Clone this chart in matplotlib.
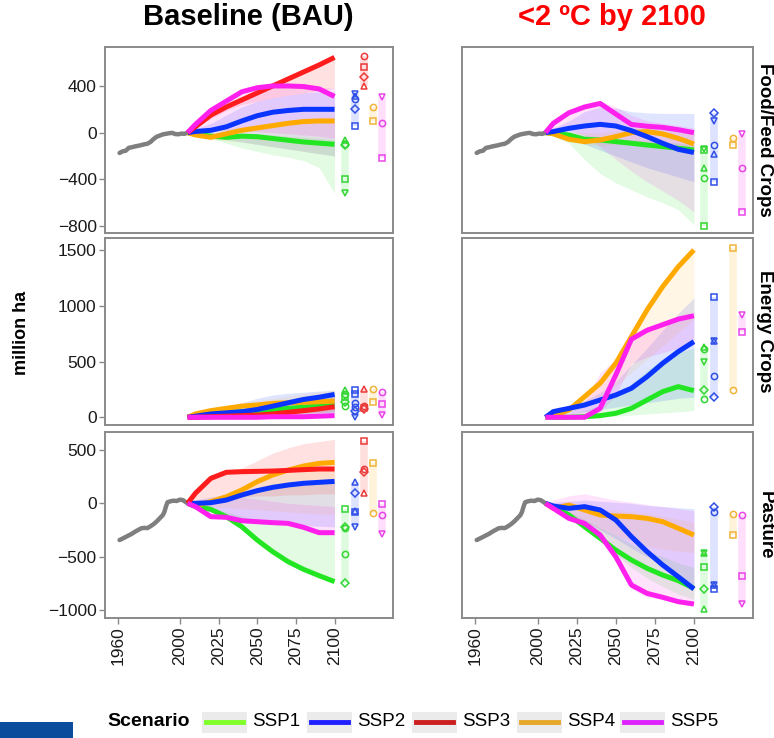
import matplotlib
matplotlib.use("Agg")
import matplotlib.pyplot as plt
from matplotlib.patches import Rectangle
from matplotlib.lines import Line2D

plt.rcParams['font.family'] = ['Liberation Sans', 'DejaVu Sans']

# ---------------- data ----------------
scenarios = ["SSP1", "SSP2", "SSP3", "SSP4", "SSP5"]
proj_years = [2005, 2010, 2020, 2030, 2040, 2050, 2060, 2070, 2080, 2090, 2100]
x_ticks = [1960, 2000, 2025, 2050, 2075, 2100]
row_labels = ["Food/Feed Crops", "Energy Crops", "Pasture"]
col_titles = ["Baseline (BAU)", "<2 ºC by 2100"]
y_label = "million ha"

food_hist_years = [1961, 1963, 1965, 1967, 1969, 1971, 1974, 1977, 1979, 1981, 1983,
                   1985, 1987, 1989, 1991, 1993, 1995, 1997, 1999, 2001, 2003, 2005]
food_hist = [-174, -160, -155, -130, -125, -118, -110, -100, -95, -80, -55,
             -35, -25, -15, -10, -5, -2, -12, -14, -8, -10, 0]

pasture_hist_years = [1961, 1963, 1965, 1967, 1969, 1971, 1973, 1975, 1977, 1979, 1981, 1983,
                      1985, 1987, 1989, 1990, 1991, 1992, 1994, 1996, 1998, 2000, 2002, 2004, 2005]
pasture_hist = [-344, -330, -315, -300, -285, -266, -250, -234, -230, -232, -215, -195,
                -170, -140, -110, -80, -30, 10, 20, 25, 22, 35, 30, 10, 0]

# Baseline, food/feed crops
bau_food_line = {
    "SSP1": [0, -10, -30, -40, -30, -35, -50, -65, -80, -90, -100],
    "SSP2": [0, 10, 20, 50, 100, 145, 175, 190, 200, 200, 200],
    "SSP3": [0, 50, 150, 220, 280, 340, 400, 460, 520, 580, 645],
    "SSP4": [0, -20, -40, -10, 20, 40, 60, 80, 95, 100, 100],
    "SSP5": [0, 70, 190, 270, 350, 385, 400, 400, 395, 375, 310],
}
bau_food_lo = {
    "SSP1": [0, -15, -50, -90, -130, -160, -190, -210, -240, -300, -520],
    "SSP2": [0, -10, -30, -60, -80, -100, -120, -140, -160, -180, -200],
    "SSP3": [0, 40, 120, 190, 240, 270, 300, 320, 340, 360, 380],
    "SSP4": [0, -25, -60, -70, -80, -100, -120, -140, -160, -180, -200],
    "SSP5": [0, 0, 10, 20, 20, 10, 0, -10, -20, -30, -50],
}
bau_food_hi = {
    "SSP1": [0, -5, -15, -15, -10, -10, -20, -30, -40, -50, -60],
    "SSP2": [0, 30, 80, 150, 220, 270, 300, 320, 340, 350, 350],
    "SSP3": [0, 50, 150, 220, 280, 340, 400, 460, 520, 580, 645],
    "SSP4": [0, 0, 10, 30, 50, 70, 90, 110, 120, 130, 130],
    "SSP5": [0, 75, 195, 275, 355, 390, 405, 405, 400, 390, 380],
}
bau_food_models = {
    "SSP1": [("^", -60), ("o", -100), ("D", -110), ("s", -400), ("v", -520)],
    "SSP2": [("v", 335), ("^", 310), ("o", 290), ("D", 200), ("s", 60)],
    "SSP3": [("o", 660), ("s", 560), ("D", 480), ("^", 400)],
    "SSP4": [("o", 222), ("s", 102)],
    "SSP5": [("v", 303), ("o", 80), ("s", -220)],
}

# <2C, food/feed crops
c2_food_line = {
    "SSP1": [0, -5, -20, -57, -63, -77, -91, -106, -120, -134, -148],
    "SSP2": [0, 9, 37, 57, 71, 57, 17, -34, -91, -143, -170],
    "SSP4": [0, -10, -57, -77, -63, -34, 0, 9, -11, -49, -97],
    "SSP5": [0, 80, 170, 220, 250, 160, 70, 55, 45, 25, 0],
}
c2_food_lo = {
    "SSP1": [0, -30, -90, -230, -350, -430, -490, -550, -600, -660, -790],
    "SSP2": [0, -10, -40, -100, -150, -200, -250, -300, -340, -380, -420],
    "SSP4": [0, -15, -70, -100, -110, -100, -90, -100, -120, -140, -160],
    "SSP5": [0, 10, 20, -20, -120, -230, -330, -420, -500, -580, -680],
}
c2_food_hi = {
    "SSP1": [0, 0, 0, -20, -40, -50, -60, -70, -80, -90, -110],
    "SSP2": [0, 40, 100, 180, 220, 210, 180, 170, 165, 165, 165],
    "SSP4": [0, 5, 10, 0, 0, 20, 40, 50, 40, 20, 0],
    "SSP5": [0, 90, 190, 240, 270, 220, 150, 100, 80, 60, 40],
}
c2_food_models = {
    "SSP1": [("v", -143), ("s", -150), ("^", -305), ("o", -391), ("s", -800)],
    "SSP2": [("D", 166), ("v", 100), ("o", -106), ("^", -186), ("s", -420)],
    "SSP4": [("o", -49), ("s", -106)],
    "SSP5": [("v", -11), ("o", -305), ("s", -677)],
}

# Baseline, energy crops
bau_energy_line = {
    "SSP1": [0, 15, 30, 40, 50, 60, 70, 80, 90, 100, 110],
    "SSP2": [0, 10, 30, 40, 50, 70, 100, 130, 160, 180, 205],
    "SSP3": [0, 0, 5, 10, 15, 20, 30, 45, 60, 75, 95],
    "SSP4": [0, 30, 60, 80, 100, 110, 125, 130, 135, 140, 145],
    "SSP5": [0, 0, 0, 0, 0, 0, 5, 5, 5, 10, 15],
}
bau_energy_lo = {
    "SSP1": [0, 0, 5, 10, 15, 20, 25, 30, 35, 40, 45],
    "SSP2": [0, 0, 5, 10, 15, 20, 25, 30, 35, 40, 45],
    "SSP3": [0, 0, 0, 0, 5, 10, 15, 20, 30, 40, 50],
    "SSP4": [0, 20, 40, 60, 80, 90, 100, 110, 120, 125, 130],
    "SSP5": [0, 0, 0, 0, 0, 0, 0, 0, 0, 0, 0],
}
bau_energy_hi = {
    "SSP1": [0, 30, 60, 80, 100, 120, 140, 160, 180, 200, 220],
    "SSP2": [0, 40, 80, 100, 130, 170, 200, 215, 225, 235, 240],
    "SSP3": [0, 5, 15, 30, 50, 70, 90, 110, 130, 150, 170],
    "SSP4": [0, 40, 80, 110, 130, 150, 170, 190, 210, 230, 250],
    "SSP5": [0, 5, 10, 15, 20, 30, 50, 80, 110, 150, 200],
}
bau_energy_models = {
    "SSP1": [("^", 245), ("o", 210), ("s", 180), ("D", 140), ("o", 105)],
    "SSP2": [("s", 245), ("s", 210), ("o", 130), ("o", 95), ("D", 55), ("v", 5)],
    "SSP3": [("^", 255), ("o", 100), ("s", 85), ("D", 70)],
    "SSP4": [("o", 251), ("s", 134)],
    "SSP5": [("o", 229), ("s", 119), ("v", 21)],
}

# <2C, energy crops
c2_energy_line = {
    "SSP1": [0, 0, 0, 5, 15, 36, 80, 155, 230, 275, 239],
    "SSP2": [0, 51, 80, 110, 155, 200, 260, 364, 484, 589, 678],
    "SSP4": [0, 12, 66, 185, 305, 484, 723, 962, 1171, 1350, 1500],
    "SSP5": [0, 0, 0, 0, 80, 380, 700, 780, 830, 880, 910],
}
c2_energy_lo = {
    "SSP1": [0, 0, 0, 0, 5, 10, 20, 30, 40, 50, 60],
    "SSP2": [0, 10, 30, 50, 70, 90, 110, 130, 150, 170, 180],
    "SSP4": [0, 10, 40, 100, 180, 280, 400, 520, 640, 760, 880],
    "SSP5": [0, 0, 0, 0, 50, 200, 480, 540, 580, 620, 650],
}
c2_energy_hi = {
    "SSP1": [0, 10, 30, 60, 110, 190, 300, 420, 520, 580, 620],
    "SSP2": [0, 60, 100, 150, 220, 320, 470, 620, 780, 930, 1070],
    "SSP4": [0, 12, 66, 185, 305, 484, 723, 962, 1171, 1350, 1500],
    "SSP5": [0, 0, 30, 150, 400, 520, 700, 800, 860, 900, 940],
}
c2_energy_models = {
    "SSP1": [("^", 633), ("o", 609), ("v", 499), ("D", 245), ("o", 161)],
    "SSP2": [("s", 1081), ("^", 687), ("v", 687), ("o", 373), ("D", 185)],
    "SSP4": [("s", 1514), ("o", 245)],
    "SSP5": [("v", 917), ("s", 768)],
}

# Baseline, pasture
bau_pasture_line = {
    "SSP1": [0, -30, -56, -125, -219, -344, -453, -547, -619, -678, -734],
    "SSP2": [0, 0, 6, 31, 78, 119, 150, 172, 188, 197, 206],
    "SSP3": [0, 94, 234, 291, 297, 300, 303, 309, 316, 322, 322],
    "SSP4": [0, -20, 16, 62, 125, 203, 266, 312, 350, 375, 384],
    "SSP5": [0, -30, -125, -131, -163, -172, -181, -188, -225, -275, -275],
}
bau_pasture_lo = {
    "SSP1": [0, -30, -56, -125, -219, -344, -453, -547, -619, -678, -734],
    "SSP2": [0, -30, -80, -120, -150, -170, -190, -200, -210, -215, -220],
    "SSP3": [0, 20, 40, 60, 60, 70, 70, 80, 80, 90, 90],
    "SSP4": [0, -20, -30, -40, -50, -60, -70, -80, -90, -100, -100],
    "SSP5": [0, -40, -130, -140, -170, -180, -190, -200, -230, -280, -290],
}
bau_pasture_hi = {
    "SSP1": [0, -10, -40, -80, -120, -160, -190, -210, -230, -240, -250],
    "SSP2": [0, 30, 60, 80, 100, 130, 160, 180, 190, 200, 210],
    "SSP3": [0, 100, 250, 310, 330, 400, 470, 520, 560, 580, 600],
    "SSP4": [0, 0, 30, 80, 140, 220, 290, 340, 370, 390, 400],
    "SSP5": [0, 20, 40, 50, 60, 40, 20, 0, -10, -20, -30],
}
bau_pasture_models = {
    "SSP1": [("s", -56), ("D", -225), ("o", -230), ("o", -475), ("D", -744)],
    "SSP2": [("^", 203), ("D", 100), ("^", -69), ("s", -78), ("v", -225)],
    "SSP3": [("s", 588), ("o", 319), ("D", 291), ("^", 94)],
    "SSP4": [("s", 381), ("o", -88)],
    "SSP5": [("s", -6), ("o", -109), ("v", -288)],
}

# <2C, pasture
c2_pasture_line = {
    "SSP1": [0, -30, -109, -219, -328, -438, -531, -609, -672, -725, -797],
    "SSP2": [0, -25, -47, -31, -62, -156, -312, -453, -578, -688, -803],
    "SSP4": [0, -47, -16, -62, -109, -119, -125, -141, -172, -234, -297],
    "SSP5": [0, -47, -141, -188, -297, -500, -766, -844, -881, -922, -944],
}
c2_pasture_lo = {
    "SSP1": [0, -40, -130, -240, -350, -480, -600, -700, -780, -850, -900],
    "SSP2": [0, -40, -100, -170, -250, -330, -420, -500, -580, -650, -780],
    "SSP4": [0, -50, -100, -170, -240, -300, -350, -400, -430, -450, -460],
    "SSP5": [0, -60, -160, -220, -320, -550, -800, -880, -900, -930, -950],
}
c2_pasture_hi = {
    "SSP1": [0, -20, -80, -150, -230, -300, -380, -450, -500, -560, -600],
    "SSP2": [0, 10, 20, 30, 20, 10, 0, -20, -30, -40, -50],
    "SSP4": [0, -10, 10, -20, -50, -70, -80, -100, -120, -150, -180],
    "SSP5": [0, 30, 70, 90, 60, 30, 10, -10, -30, -50, -70],
}
c2_pasture_models = {
    "SSP1": [("^", -463), ("v", -463), ("s", -600), ("D", -806), ("^", -991)],
    "SSP2": [("D", -37), ("o", -84), ("^", -766), ("v", -766), ("s", -803)],
    "SSP4": [("o", -100), ("s", -297)],
    "SSP5": [("o", -109), ("s", -681), ("v", -944)],
}

# ---------------- style ----------------
line_col = {"SSP1": "#22e622", "SSP2": "#0a34ff", "SSP3": "#ff1c1c",
            "SSP4": "#ffaa00", "SSP5": "#ff20ee"}
mark_col = {"SSP1": "#33d633", "SSP2": "#3050e6", "SSP3": "#ea3a3a",
            "SSP4": "#f0b43a", "SSP5": "#e845e8"}
leg_col = {"SSP1": "#80ff2a", "SSP2": "#1f1fff", "SSP3": "#cc1f1f",
           "SSP4": "#e6a829", "SSP5": "#dd22ff"}
fill_alpha = {"SSP1": 0.13, "SSP2": 0.13, "SSP3": 0.13, "SSP4": 0.10, "SSP5": 0.13}
model_x = {"SSP1": 2106.5, "SSP2": 2113, "SSP3": 2119, "SSP4": 2125, "SSP5": 2131}
hist_col = "#7f7f7f"
border_col = "#8a8a8a"

W, H = 774, 738
fig = plt.figure(figsize=(W / 100, H / 100), dpi=100)


def fr(x0, y0, x1, y1):
    return [x0 / W, 1 - y1 / H, (x1 - x0) / W, (y1 - y0) / H]


cols = [(105, 393), (462, 753)]
rows = [(47, 233), (238, 425), (432, 618)]
ylims = [(-860, 734), (-69, 1607), (-1075, 669)]
yticks = [[-800, -400, 0, 400], [0, 500, 1000, 1500], [-1000, -500, 0, 500]]

panels = [
    [(bau_food_line, bau_food_lo, bau_food_hi, bau_food_models, food_hist_years, food_hist),
     (c2_food_line, c2_food_lo, c2_food_hi, c2_food_models, food_hist_years, food_hist)],
    [(bau_energy_line, bau_energy_lo, bau_energy_hi, bau_energy_models, None, None),
     (c2_energy_line, c2_energy_lo, c2_energy_hi, c2_energy_models, None, None)],
    [(bau_pasture_line, bau_pasture_lo, bau_pasture_hi, bau_pasture_models, pasture_hist_years, pasture_hist),
     (c2_pasture_line, c2_pasture_lo, c2_pasture_hi, c2_pasture_models, pasture_hist_years, pasture_hist)],
]

for r, (ry0, ry1) in enumerate(rows):
    for c, (cx0, cx1) in enumerate(cols):
        ax = fig.add_axes(fr(cx0, ry0, cx1, ry1))
        line, lo, hi, models, hy, hv = panels[r][c]
        for s in scenarios:
            if s in lo:
                ax.fill_between(proj_years, lo[s], hi[s], color=line_col[s],
                                alpha=fill_alpha[s], linewidth=0)
        if hy is not None:
            ax.plot(hy, hv, color=hist_col, lw=3.2, solid_capstyle='round', zorder=3)
        for s in ["SSP1", "SSP4", "SSP2", "SSP3", "SSP5"]:
            if s in line:
                ax.plot(proj_years, line[s], color=line_col[s], lw=3.6,
                        solid_capstyle='butt', zorder=4)
        for s in scenarios:
            if s in models:
                vals = [v for _, v in models[s]]
                ax.vlines(model_x[s], min(vals), max(vals), color=line_col[s],
                          alpha=0.14, lw=5.5, zorder=2)
                for m, v in models[s]:
                    ax.plot(model_x[s], v, marker=m, ms=4.5, mfc='none',
                            mec=mark_col[s], mew=1.1, ls='none', zorder=5)
        ax.set_xlim(1951.6, 2137.8)
        ax.set_ylim(*ylims[r])
        ax.set_yticks(yticks[r])
        ax.set_xticks(x_ticks)
        for sp in ax.spines.values():
            sp.set_color(border_col)
            sp.set_linewidth(1.4)
        ax.tick_params(axis='both', color=border_col, length=4, width=1,
                       labelsize=12.5, labelcolor='#1a1a1a', pad=2)
        if c == 1:
            ax.tick_params(axis='y', left=False, labelleft=False)
        if r < 2:
            ax.tick_params(axis='x', bottom=False, labelbottom=False)
        else:
            ax.set_xticklabels([str(t) for t in x_ticks], rotation=90)
        if c == 1:
            fig.text(765 / W, 1 - (ry0 + ry1) / 2 / H, row_labels[r], rotation=-90,
                     ha='center', va='center', fontsize=13.5, fontweight='bold')

# titles
fig.text(248 / W, 1 - 17 / H, col_titles[0], ha='center', va='center',
         fontsize=21, fontweight='bold', color='black')
fig.text(612 / W, 1 - 17 / H, col_titles[1], ha='center', va='center',
         fontsize=21, fontweight='bold', color='#ff0000')
fig.text(22 / W, 1 - 333 / H, y_label, rotation=90, ha='center', va='center',
         fontsize=13, fontweight='bold')

# legend (manual, figure pixel coords)
ly = 722
fig.text(107 / W, 1 - ly / H, "Scenario", ha='left', va='center',
         fontsize=14, fontweight='bold')
key_x = [202, 307, 412, 517, 620]
for s, kx in zip(scenarios, key_x):
    fig.add_artist(Rectangle((kx / W, 1 - 733 / H), 45 / W, 21 / H,
                             transform=fig.transFigure, facecolor='#ebebeb',
                             edgecolor='none'))
    fig.add_artist(Line2D([(kx + 4) / W, (kx + 41) / W], [1 - ly / H, 1 - ly / H],
                          transform=fig.transFigure, color=leg_col[s], lw=3.5))
    fig.text((kx + 50) / W, 1 - ly / H, s, ha='left', va='center', fontsize=13.5)

# blue logo bar at bottom-left
fig.add_artist(Rectangle((0, 0), 73 / W, 16 / H, transform=fig.transFigure,
                         facecolor='#0b4c9c', edgecolor='none'))

fig.savefig("out.png", dpi=100)
